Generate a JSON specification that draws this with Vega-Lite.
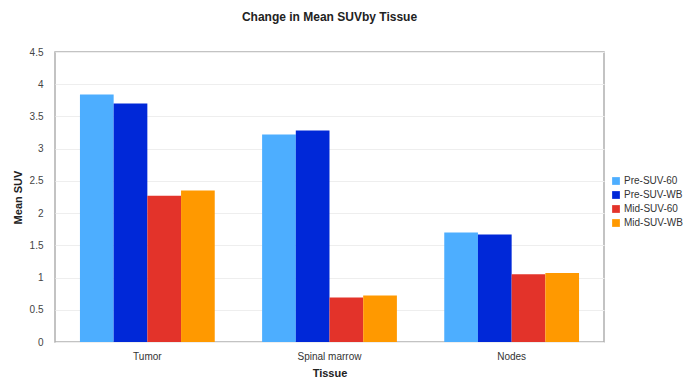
{
  "$schema": "https://vega.github.io/schema/vega-lite/v6.json",
  "width": 549,
  "height": 290,
  "autosize": "none",
  "padding": {"left": 55, "top": 52, "right": 85, "bottom": 39},
  "background": "white",
  "title": {"text": "Change in Mean SUVby Tissue", "font": "Liberation Sans", "fontSize": 12, "fontWeight": "bold", "color": "#222", "offset": 23, "anchor": "middle"},
  "data": {"values": [
    {"tissue": "Tumor", "series": "Pre-SUV-60", "suv": 3.84},
    {"tissue": "Tumor", "series": "Pre-SUV-WB", "suv": 3.70},
    {"tissue": "Tumor", "series": "Mid-SUV-60", "suv": 2.27},
    {"tissue": "Tumor", "series": "Mid-SUV-WB", "suv": 2.35},
    {"tissue": "Spinal marrow", "series": "Pre-SUV-60", "suv": 3.22},
    {"tissue": "Spinal marrow", "series": "Pre-SUV-WB", "suv": 3.28},
    {"tissue": "Spinal marrow", "series": "Mid-SUV-60", "suv": 0.69},
    {"tissue": "Spinal marrow", "series": "Mid-SUV-WB", "suv": 0.72},
    {"tissue": "Nodes", "series": "Pre-SUV-60", "suv": 1.70},
    {"tissue": "Nodes", "series": "Pre-SUV-WB", "suv": 1.67},
    {"tissue": "Nodes", "series": "Mid-SUV-60", "suv": 1.05},
    {"tissue": "Nodes", "series": "Mid-SUV-WB", "suv": 1.07}
  ]},
  "mark": {"type": "bar"},
  "encoding": {
    "x": {"field": "tissue", "type": "nominal", "sort": ["Tumor", "Spinal marrow", "Nodes"],
      "scale": {"paddingInner": 0.26, "paddingOuter": 0.137},
      "axis": {"title": "Tissue", "labelAngle": 0, "ticks": false, "domain": false, "labelPadding": 9, "titlePadding": 6, "labelFont": "Liberation Sans", "labelFontSize": 10, "labelColor": "#333", "titleFont": "Liberation Sans", "titleFontSize": 11, "titleFontWeight": "bold", "titleColor": "#222"}},
    "xOffset": {"field": "series", "type": "nominal", "sort": ["Pre-SUV-60", "Pre-SUV-WB", "Mid-SUV-60", "Mid-SUV-WB"], "scale": {"paddingInner": 0, "paddingOuter": 0}},
    "y": {"field": "suv", "type": "quantitative", "scale": {"domain": [0, 4.5], "nice": false},
      "axis": {"title": "Mean SUV", "values": [0, 0.5, 1, 1.5, 2, 2.5, 3, 3.5, 4, 4.5], "format": "~g", "ticks": false, "domain": false, "labelPadding": 12, "titlePadding": 6, "gridColor": "#eeeeee", "labelFont": "Liberation Sans", "labelFontSize": 10, "labelColor": "#444", "titleFont": "Liberation Sans", "titleFontSize": 11, "titleFontWeight": "bold", "titleColor": "#222"}},
    "color": {"field": "series", "type": "nominal", "sort": ["Pre-SUV-60", "Pre-SUV-WB", "Mid-SUV-60", "Mid-SUV-WB"],
      "scale": {"domain": ["Pre-SUV-60", "Pre-SUV-WB", "Mid-SUV-60", "Mid-SUV-WB"], "range": ["#4DAEFF", "#0028D8", "#E3332A", "#FF9900"]},
      "legend": {"title": null, "orient": "none", "legendX": 556, "legendY": 124, "symbolType": "square", "symbolSize": 60, "symbolStrokeWidth": 0, "rowPadding": 4, "labelFont": "Liberation Sans", "labelFontSize": 10, "labelColor": "#333", "labelOffset": 3}}
  },
  "config": {"view": {"stroke": "#b0b0b0", "strokeWidth": 1.5}}
}
